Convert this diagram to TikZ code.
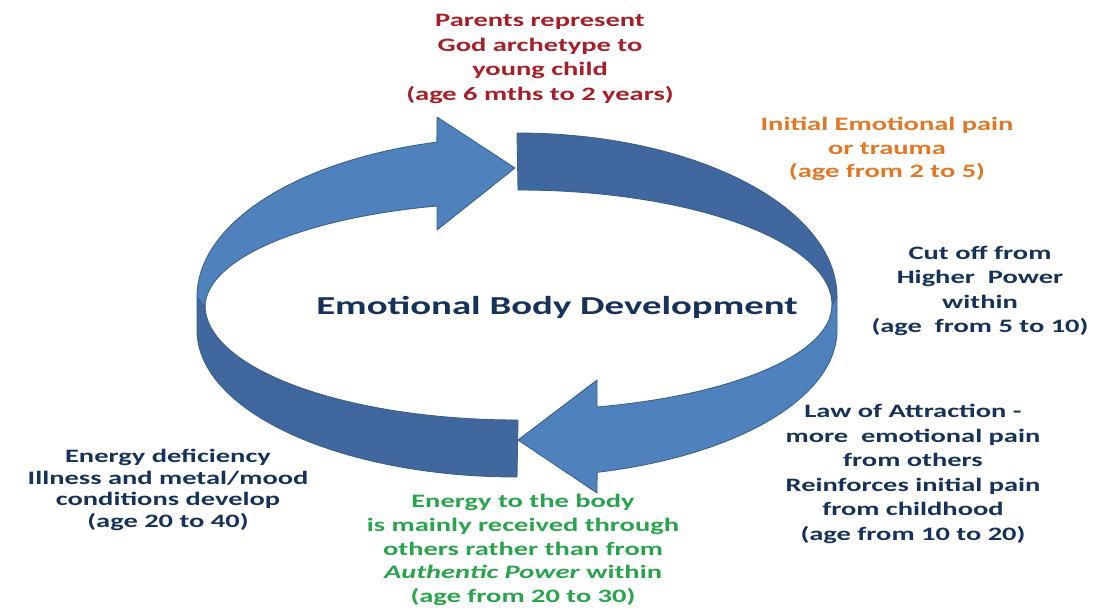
\documentclass[tikz,border=0pt]{standalone}
\usepackage{fontspec}
\setmainfont{Carlito}[FakeStretch=1.5]

\definecolor{bandlight}{RGB}{79,129,189}
\definecolor{banddark}{RGB}{64,104,158}
\definecolor{bandline}{RGB}{56,93,138}
\definecolor{txtred}{RGB}{168,30,40}
\definecolor{txtorange}{RGB}{227,120,36}
\definecolor{txtnavy}{RGB}{22,50,90}
\definecolor{txtgreen}{RGB}{40,165,75}

\begin{document}
\begin{tikzpicture}[x=0.025cm,y=-0.025cm,
    lightband/.style={fill=bandlight,draw=bandline,line width=0.6pt,line join=round},
    darkband/.style={fill=banddark,draw=bandline,line width=0.6pt,line join=round},
    lbl/.style={align=center,font=\bfseries\fontsize{13.5}{17.6}\selectfont}]
    \useasboundingbox (0,0) rectangle (1096,612);

    % back half of the ring
    \filldraw[darkband] (517,133) arc[start angle=270,end angle=360,x radius=320,y radius=164]
        -- (832,305) arc[start angle=0,end angle=-90,x radius=314,y radius=115] -- cycle;
    \filldraw[darkband] (518,420) arc[start angle=90,end angle=180,x radius=313,y radius=115]
        -- (197,297) -- (197,330) arc[start angle=180,end angle=90,x radius=320,y radius=147] -- cycle;

    % the two arrows
    \filldraw[lightband] (197,297) arc[start angle=180,end angle=255.5,x radius=320,y radius=160]
        -- (437,117) -- (515,168) -- (437,230) -- (437,206)
        arc[start angle=255,end angle=180,x radius=313,y radius=105] -- cycle;
    \filldraw[lightband] (832,305) -- (837,297) -- (837,330)
        arc[start angle=0,end angle=75.5,x radius=320,y radius=147]
        -- (597,493) -- (518,440) -- (597,380) -- (597,407)
        arc[start angle=75.4,end angle=0,x radius=314,y radius=105] -- cycle;

    \node[font=\bfseries\fontsize{18.4}{22}\selectfont,text=txtnavy] (title) at (557,307) {Emotional Body Development};

    \node[lbl,text=txtred] (parents) at (540,59) {Parents represent\\God archetype to\\young child\\(age 6 mths to 2 years)};
    \node[lbl,text=txtorange,font=\bfseries\fontsize{13.5}{16.7}\selectfont] (trauma) at (887,149) {Initial Emotional pain\\or trauma\\(age from 2 to 5)};
    \node[lbl,text=txtnavy,font=\bfseries\fontsize{13.5}{17.2}\selectfont] (cutoff) at (980,291) {Cut off from\\Higher~ Power\\within\\(age~ from 5 to 10)};
    \node[lbl,text=txtnavy,font=\bfseries\fontsize{13.5}{17.4}\selectfont] (attraction) at (913,474) {Law of Attraction -\\more~ emotional pain\\from others\\Reinforces initial pain\\from childhood\\(age from 10 to 20)};
    \node[lbl,text=txtnavy,font=\bfseries\fontsize{13.5}{15.4}\selectfont] (deficiency) at (168,490) {Energy deficiency\\Illness and metal/mood\\conditions develop\\(age 20 to 40)};
    \node[lbl,text=txtgreen,font=\bfseries\fontsize{13.5}{17}\selectfont] (energy) at (523,550) {Energy to the body\\is mainly received through\\others rather than from\\\textit{Authentic Power} within\\(age from 20 to 30)};
\end{tikzpicture}
\end{document}
